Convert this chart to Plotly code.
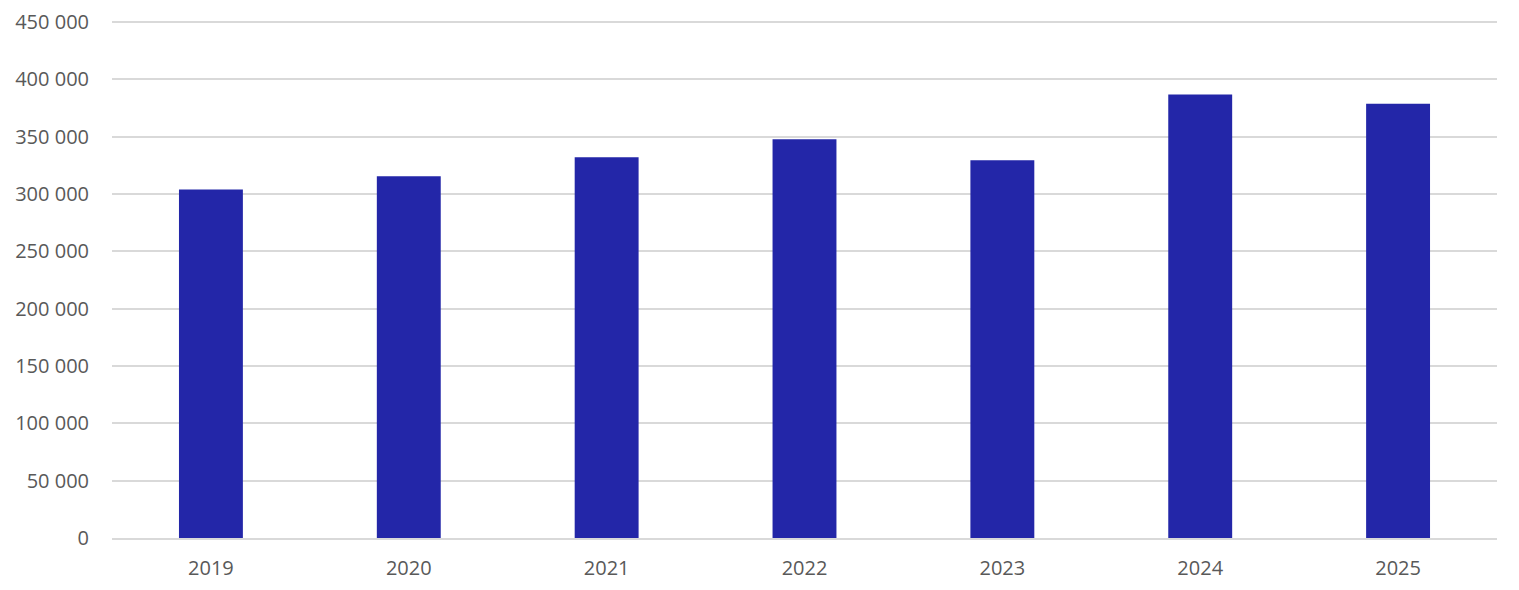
import plotly.graph_objects as go

years = ["2019", "2020", "2021", "2022", "2023", "2024", "2025"]
values = [304000, 315500, 332000, 347700, 329500, 386700, 378800]
y_ticks = [0, 50000, 100000, 150000, 200000, 250000, 300000, 350000, 400000, 450000]
y_tick_labels = ["0", "50 000", "100 000", "150 000", "200 000", "250 000",
                 "300 000", "350 000", "400 000", "450 000"]

fig = go.Figure(go.Bar(x=years, y=values, marker_color="#2326A8", marker_line_width=0))

fig.update_layout(
    width=1519, height=590,
    margin=dict(l=112, r=22, t=17, b=52, autoexpand=False),
    paper_bgcolor="white", plot_bgcolor="white",
    bargap=0.677,
    font=dict(family="Open Sans, sans-serif", size=20, color="#595959"),
    showlegend=False,
)
fig.update_yaxes(range=[0, 450000 * 521 / 516], tickvals=y_ticks, ticktext=y_tick_labels,
                 showgrid=True, gridcolor="#D9D9D9", gridwidth=1.5,
                 zeroline=False, showline=False, ticks="", ticklabelstandoff=22,
                 automargin=False,
                 tickfont=dict(size=20, color="#595959"))
fig.update_xaxes(showline=True, linecolor="#D9D9D9", linewidth=1.5,
                 ticks="", ticklabelstandoff=11, automargin=False,
                 tickfont=dict(size=20, color="#595959"))

fig.write_html("out.html")
